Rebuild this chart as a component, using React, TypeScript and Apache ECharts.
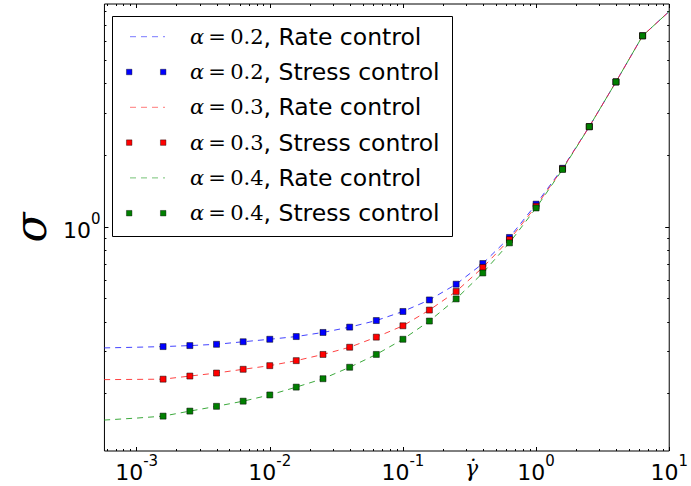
import React, { useEffect, useRef } from "react";
import * as echarts from "echarts";

// ---- data ----
const stressRates = [0.00158, 0.00251, 0.00398, 0.00631, 0.01, 0.0158, 0.0251, 0.0398, 0.0631, 0.1, 0.158, 0.251, 0.398, 0.631, 1.0, 1.58, 2.51, 3.98, 6.31];
const stressA02 = [0.315, 0.318, 0.322, 0.33, 0.338, 0.347, 0.361, 0.38, 0.405, 0.442, 0.494, 0.575, 0.702, 0.903, 1.245, 1.76, 2.63, 4.05, 6.32];
const stressA03 = [0.23, 0.237, 0.244, 0.253, 0.262, 0.275, 0.292, 0.313, 0.345, 0.385, 0.448, 0.536, 0.676, 0.884, 1.22, 1.75, 2.63, 4.05, 6.32];
const stressA04 = [0.161, 0.169, 0.177, 0.186, 0.1975, 0.213, 0.231, 0.258, 0.292, 0.338, 0.403, 0.499, 0.641, 0.857, 1.2, 1.74, 2.63, 4.05, 6.32];

const rateRates = [0.00057, 0.001, 0.00158, 0.00251, 0.00398, 0.00631, 0.01, 0.0158, 0.0251, 0.0398, 0.0631, 0.1, 0.158, 0.251, 0.398, 0.631, 1.0, 1.58, 2.51, 3.98, 6.31, 10];
const rateA02 = [0.311, 0.313, 0.315, 0.318, 0.322, 0.33, 0.338, 0.347, 0.361, 0.38, 0.405, 0.442, 0.494, 0.575, 0.702, 0.903, 1.245, 1.76, 2.63, 4.05, 6.32, 8.0];
const rateA03 = [0.229, 0.2295, 0.23, 0.237, 0.244, 0.253, 0.262, 0.275, 0.292, 0.313, 0.345, 0.385, 0.448, 0.536, 0.676, 0.884, 1.22, 1.75, 2.63, 4.05, 6.32, 8.0];
const rateA04 = [0.155, 0.158, 0.161, 0.169, 0.177, 0.186, 0.1975, 0.213, 0.231, 0.258, 0.292, 0.338, 0.403, 0.499, 0.641, 0.857, 1.2, 1.74, 2.63, 4.05, 6.32, 8.0];

const alphas = ["0.2", "0.3", "0.4"];
const controlNames = ["Rate control", "Stress control"];

// axis ranges and ticks
const xMin = 0.000573;
const xMax = 10;
const yMin = 0.115;
const yMax = 8.59;
const xMajorExponents = [-3, -2, -1, 0, 1];
const yMajorExponents = [0];
const xMinorTickValues = [0.0006, 0.0007, 0.0008, 0.0009, 0.002, 0.003, 0.004, 0.005, 0.006, 0.007, 0.008, 0.009, 0.02, 0.03, 0.04, 0.05, 0.06, 0.07, 0.08, 0.09, 0.2, 0.3, 0.4, 0.5, 0.6, 0.7, 0.8, 0.9, 2, 3, 4, 5, 6, 7, 8, 9];
const yMinorTickValues = [0.2, 0.3, 0.4, 0.5, 0.6, 0.7, 0.8, 0.9, 2, 3, 4, 5, 6, 7, 8];

const colors = ["#0000ff", "#ff0000", "#007f00"];
const lineColors = ["#2222ff", "#ff2222", "#1a9a1a"];

const pairs = (xs: number[], ys: number[]) => xs.map((x, i) => [x, ys[i]]);

export default function App() {
  const ref = useRef<HTMLDivElement>(null);

  useEffect(() => {
    if (!ref.current) return;
    const chart = echarts.init(ref.current, undefined, { renderer: "svg" });

    const rateSets = [rateA02, rateA03, rateA04];
    const stressSets = [stressA02, stressA03, stressA04];

    const series: any[] = [];
    alphas.forEach((a, i) => {
      series.push({
        name: `α=${a}, ${controlNames[0]}`,
        type: "line",
        xAxisIndex: 0,
        yAxisIndex: 0,
        data: pairs(rateRates, rateSets[i]),
        symbol: "none",
        smooth: false,
        clip: true,
        lineStyle: { color: lineColors[i], width: 1, type: [6, 5], opacity: 0.85 },
        z: 2,
      });
      series.push({
        name: `α=${a}, ${controlNames[1]}`,
        type: "scatter",
        xAxisIndex: 0,
        yAxisIndex: 0,
        data: pairs(stressRates, stressSets[i]),
        symbol: "rect",
        symbolSize: 6,
        itemStyle: { color: colors[i], borderColor: "#000", borderWidth: 0.5, opacity: 1 },
        z: 2,
      });
    });

    const lxMin = Math.log10(xMin);
    const lxMax = Math.log10(xMax);
    const lyMin = Math.log10(yMin);
    const lyMax = Math.log10(yMax);

    const rich = {
      b: { fontSize: 22, fontFamily: "DejaVu Sans", color: "#000", lineHeight: 30, verticalAlign: "bottom" },
      s: { fontSize: 15, fontFamily: "DejaVu Sans", color: "#000", lineHeight: 20, verticalAlign: "top" },
    };
    const fmt = (v: number) => `{b|10}{s|${Math.round(v)}}`;

    const tickAxis = (
      pos: string,
      vmin: number,
      vmax: number,
      values: number[],
      len: number,
      label: boolean,
      extra: any = {}
    ) => ({
      type: "value",
      min: vmin,
      max: vmax,
      position: pos,
      axisLine: { show: false, onZero: false },
      splitLine: { show: false },
      axisTick: { show: true, inside: true, length: len, customValues: values, lineStyle: { color: "#000", width: 1 } },
      axisLabel: label
        ? { show: true, customValues: values, formatter: fmt, rich, margin: pos === "left" ? 4 : 2 }
        : { show: false },
      ...extra,
    });

    const xMinorLog = xMinorTickValues.map((v) => Math.log10(v));
    const yMinorLog = yMinorTickValues.map((v) => Math.log10(v));

    const option: any = {
      animation: false,
      backgroundColor: "#fff",
      grid: {
        left: 100,
        right: 18,
        top: 4,
        bottom: 35,
        show: true,
        borderColor: "#000",
        borderWidth: 1,
        backgroundColor: "transparent",
        containLabel: false,
      },
      xAxis: [
        { type: "log", logBase: 10, min: xMin, max: xMax, show: false, axisLine: { onZero: false } },
        tickAxis("bottom", lxMin, lxMax, xMajorExponents, 4, true),
        tickAxis("bottom", lxMin, lxMax, xMinorLog, 2, false),
        tickAxis("top", lxMin, lxMax, xMajorExponents, 4, false),
        tickAxis("top", lxMin, lxMax, xMinorLog, 2, false),
      ],
      yAxis: [
        { type: "log", logBase: 10, min: yMin, max: yMax, show: false, axisLine: { onZero: false } },
        tickAxis("left", lyMin, lyMax, yMajorExponents, 4, true, {
          name: "σ",
          nameLocation: "middle",
          nameRotate: 90,
          nameGap: 52,
          nameTextStyle: { fontFamily: "DejaVu Serif", fontStyle: "italic", fontSize: 44, color: "#000" },
        }),
        tickAxis("left", lyMin, lyMax, yMinorLog, 2, false),
        tickAxis("right", lyMin, lyMax, yMajorExponents, 4, false),
        tickAxis("right", lyMin, lyMax, yMinorLog, 2, false),
      ],
      series,
      graphic: buildGraphics(),
    };

    chart.setOption(option);
    return () => chart.dispose();
  }, []);

  return <div ref={ref} style={{ width: 691, height: 486, position: "absolute", left: 0, top: 0 }} />;
}

function buildGraphics() {
  const children: any[] = [];
  const boxX = 112.5;
  const boxY = 16.5;
  const boxW = 340;
  const boxH = 220;
  children.push({
    type: "rect",
    shape: { x: boxX, y: boxY, width: boxW, height: boxH },
    style: { fill: "#fff", stroke: "#000", lineWidth: 1 },
  });
  const rowY0 = 36.7;
  const rowStep = 35.3;
  let row = 0;
  alphas.forEach((a, i) => {
    controlNames.forEach((cn, k) => {
      const cy = rowY0 + row * rowStep;
      if (k === 0) {
        children.push({
          type: "line",
          shape: { x1: 130, y1: cy, x2: 165, y2: cy },
          style: { stroke: lineColors[i], lineWidth: 1, lineDash: [6, 5], opacity: 0.6 },
        });
      } else {
        [129.2, 163.2].forEach((mx) => {
          children.push({
            type: "rect",
            shape: { x: mx - 2.75, y: cy - 2.75, width: 5.5, height: 5.5 },
            style: { fill: colors[i], stroke: "#000", lineWidth: 0.4 },
          });
        });
      }
      children.push({
        type: "text",
        x: 190,
        y: cy,
        style: {
          text: `{a|α}{m|\u2009=\u2009${a}}{t|, ${cn}}`,
          verticalAlign: "middle",
          align: "left",
          rich: {
            a: { fontFamily: "DejaVu Serif", fontStyle: "italic", fontSize: 21, fill: "#000", color: "#000" },
            m: { fontFamily: "DejaVu Serif", fontSize: 21, fill: "#000", color: "#000" },
            t: { fontFamily: "DejaVu Sans", fontSize: 23.5, fill: "#000", color: "#000" },
          },
        },
      });
      row++;
    });
  });
  return [
    { type: "group", z: 100, children },
    {
      type: "text",
      x: 471.5,
      y: 468,
      z: 100,
      style: {
        text: "γ\u0307",
        font: "italic 22px 'DejaVu Serif'",
        fill: "#000",
        align: "center",
        verticalAlign: "middle",
      },
    },
  ];
}
